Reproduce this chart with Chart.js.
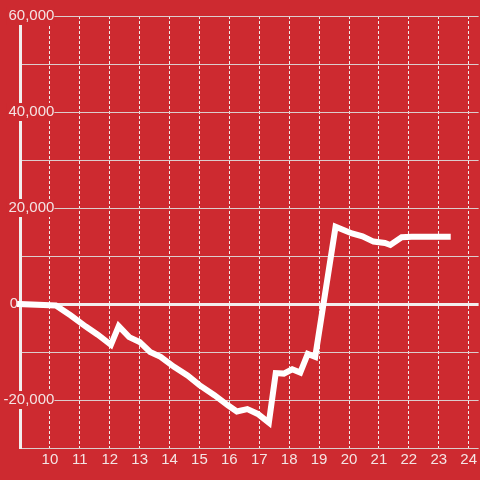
<!DOCTYPE html>
<html>
<head>
<meta charset="utf-8">
<script src="https://cdn.jsdelivr.net/npm/chart.js@4"></script>
<style>
  html, body { margin: 0; padding: 0; background: #cd2a30; }
  canvas { display: block; }
</style>
</head>
<body>
<canvas id="c" width="480" height="480"></canvas>
<script>
const hours = [9.0, 10.2, 10.7, 11.2, 11.6, 12.04, 12.3, 12.65, 13.0, 13.35, 13.7, 14.15, 14.6, 15.0, 15.5, 15.95, 16.25, 16.6, 16.95, 17.32, 17.55, 17.82, 18.1, 18.37, 18.62, 18.87, 19.55, 20.1, 20.45, 20.82, 21.2, 21.38, 21.76, 22.1, 23.3];
const values = [0, -300, -2400, -4700, -6400, -8500, -4600, -6900, -7900, -10000, -11000, -13100, -14900, -16900, -19000, -21100, -22400, -21900, -22900, -24700, -14400, -14500, -13600, -14300, -10400, -11000, 16100, 14700, 14100, 13000, 12700, 12300, 13900, 14000, 14000];
const xTickValues = [10, 11, 12, 13, 14, 15, 16, 17, 18, 19, 20, 21, 22, 23, 24];
const yLabelValues = [60000, 40000, 20000, 0, -20000];

const RED = '#cd2a30';
const TEXT = '#f4e4e4';
const FONT = { family: "'Liberation Sans', Arial, sans-serif", size: 15 };

new Chart(document.getElementById('c'), {
  type: 'line',
  data: {
    datasets: [{
      data: hours.map((h, i) => ({ x: h, y: values[i] })),
      borderColor: '#ffffff',
      borderWidth: 6,
      borderCapStyle: 'square',
      borderJoinStyle: 'miter',
      pointRadius: 0,
      tension: 0,
      fill: false,
      clip: false
    }]
  },
  options: {
    responsive: false,
    animation: false,
    devicePixelRatio: 1,
    layout: { padding: { top: 16, right: 0, bottom: 8, left: 0 } },
    plugins: { legend: { display: false }, tooltip: { enabled: false } },
    scales: {
      x: {
        type: 'linear',
        min: 9,
        max: 24.3333,
        ticks: {
          stepSize: 1,
          includeBounds: false,
          autoSkip: false,
          maxRotation: 0,
          padding: 3,
          color: TEXT,
          font: FONT,
          callback: (v) => xTickValues.includes(v) ? String(v) : ''
        },
        grid: {
          drawTicks: false,
          lineWidth: 1,
          color: (ctx) => (ctx.tick && xTickValues.includes(ctx.tick.value)) ? '#f0eeee' : 'rgba(0,0,0,0)'
        },
        border: { display: false, dash: [3, 2] }
      },
      y: {
        min: -30000,
        max: 60000,
        afterFit: (scale) => { scale.width = 20; },
        ticks: {
          stepSize: 10000,
          z: 1,
          mirror: true,
          crossAlign: 'far',
          padding: -16.5,
          color: TEXT,
          font: FONT,
          showLabelBackdrop: true,
          backdropPadding: { top: 0, bottom: 0, left: 2, right: 0 },
          backdropColor: (ctx) => (ctx.tick && yLabelValues.includes(ctx.tick.value) && ctx.tick.value !== 0) ? RED : 'rgba(0,0,0,0)',
          callback: (v) => {
            if (!yLabelValues.includes(v)) return '';
            if (v === 0) return '0        \u2009';
            return v.toLocaleString('en-US');
          }
        },
        grid: {
          drawTicks: false,
          color: (ctx) => (ctx.tick && ctx.tick.value === 0) ? '#f2eeee' : '#dccdcd',
          lineWidth: (ctx) => (ctx.tick && ctx.tick.value === 0) ? 3 : 1
        },
        border: { display: true, width: 3, color: '#f2eeee' }
      }
    }
  }
});
</script>
</body>
</html>
